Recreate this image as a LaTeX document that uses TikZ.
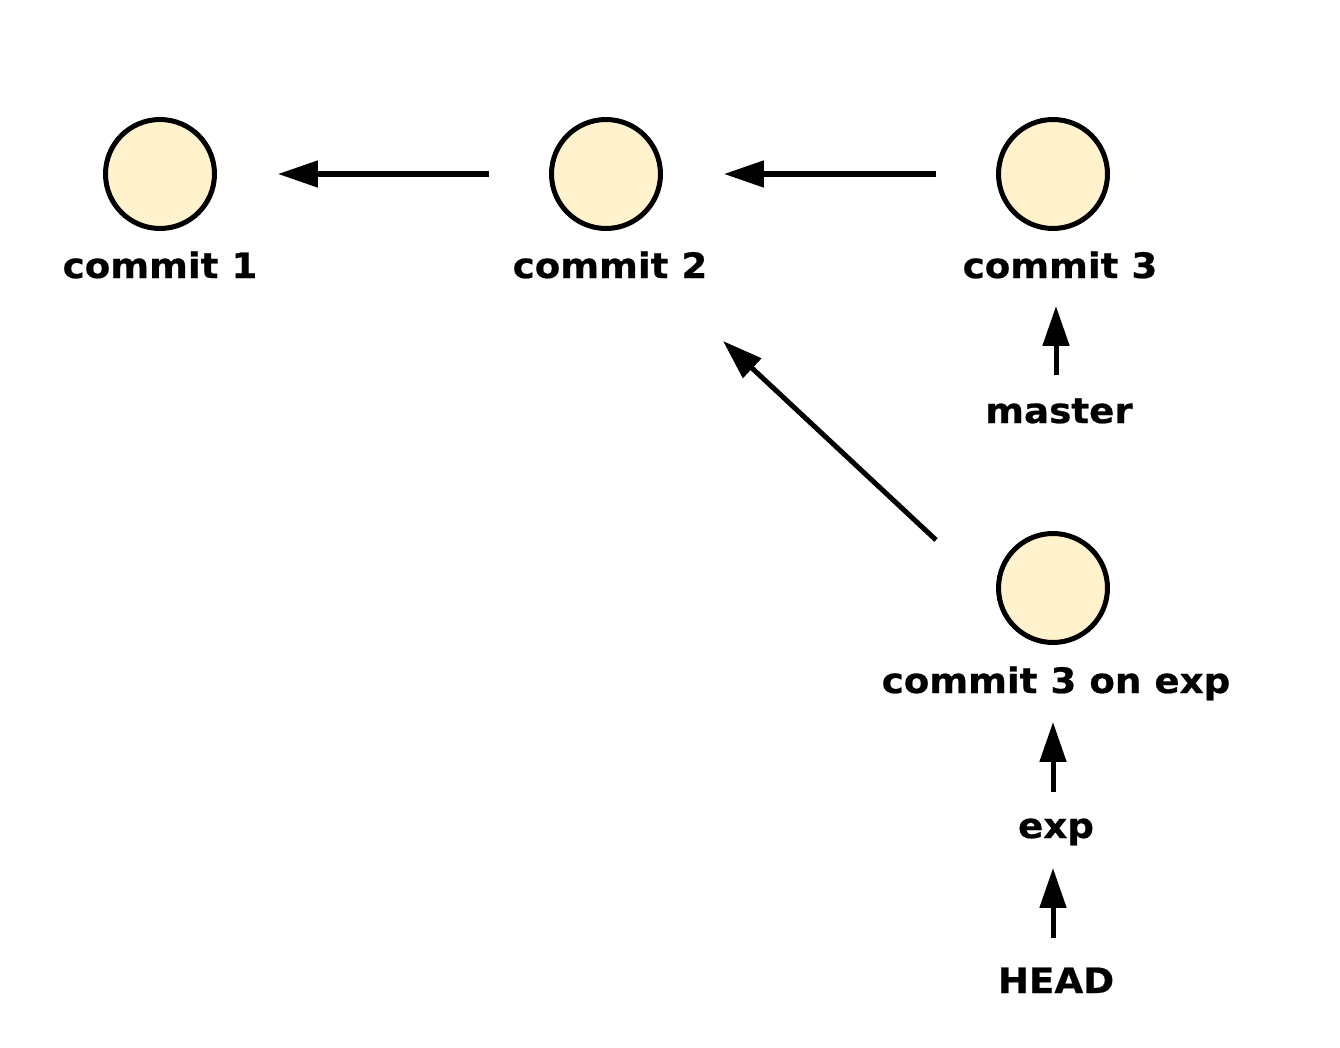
\documentclass[tikz,border=0pt]{standalone}
\usepackage{fontspec}
\setmainfont[FakeStretch=1.065,BoldFeatures={FakeBold=0.6}]{DejaVu Sans}
\usepackage{tikz}
\usetikzlibrary{arrows.meta,positioning,calc}
\definecolor{cfill}{RGB}{255,242,204}
\tikzset{
  commit/.style={circle,draw=black,fill=cfill,line width=2.85pt,
    minimum size=2.18cm,inner sep=0pt},
  lbl/.style={font=\fontsize{19.9}{22}\selectfont\bfseries,inner sep=0pt,anchor=base},
  arr/.style={line width=2.85pt,-{Triangle[length=0.8cm,width=0.52cm]}},
  link/.style={arr,shorten <=1.2cm,shorten >=1.22cm}
}

\begin{document}
\begin{tikzpicture}[x=0.02cm,y=-0.02cm]
    \useasboundingbox (0,0) rectangle (1340,1048);
    % commits
    \node[commit] (c1) at (160,174) {};
    \node[commit] (c2) at (606,174) {};
    \node[commit] (c3) at (1053,174) {};
    \node[commit] (c3e) at (1053,588) {};
    % labels
    \node[lbl] (l1) at (160,278) {commit 1};
    \node[lbl] (l2) at (610,278) {commit 2};
    \node[lbl] (l3) at (1060,278) {commit 3};
    \node[lbl] (master) at (1059,423) {master};
    \node[lbl] (l3e) at (1056,693) {commit 3 on exp};
    \node[lbl] (exp) at (1056,838) {exp};
    \node[lbl] (head) at (1056,993) {HEAD};
    % parents
    \draw[link] (c2) -- (c1);
    \draw[link] (c3) -- (c2);
    \draw[arr] ($(c3e)+(-117,-48)$) -- ($(c2)+(117,167)$);
    % refs
    \draw[arr] ($(master.base)+(-3,-48)$) -- ($(l3.base)+(-4,28)$);
    \draw[arr] ($(exp.base)+(-3,-46)$) -- ($(l3e.base)+(-3,29)$);
    \draw[arr] ($(head.base)+(-3,-55)$) -- ($(exp.base)+(-3,30)$);
\end{tikzpicture}
\end{document}
